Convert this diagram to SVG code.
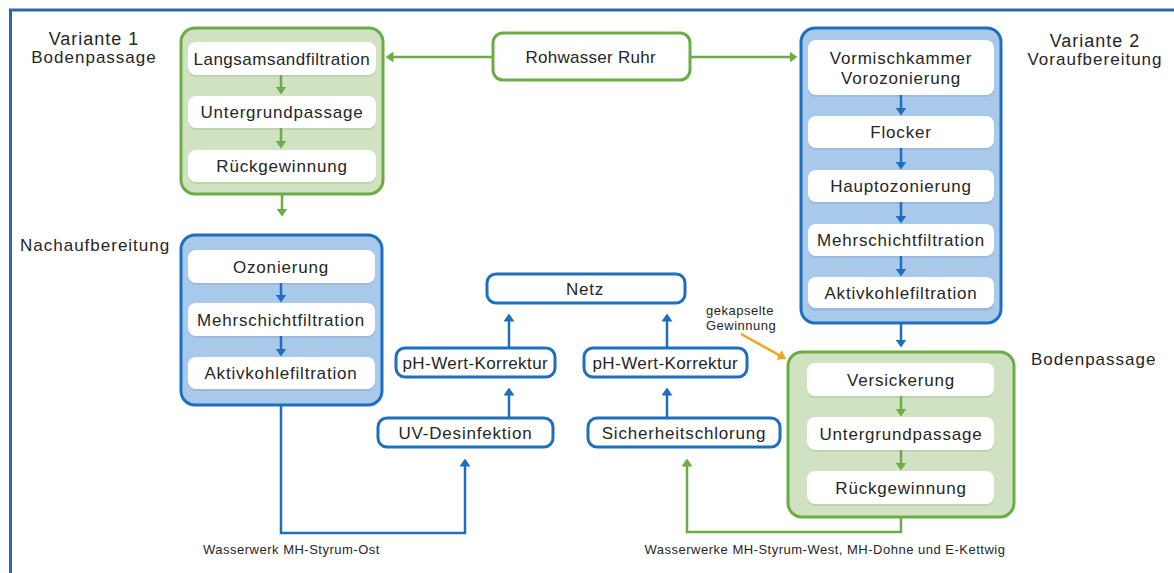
<svg xmlns="http://www.w3.org/2000/svg" width="1174" height="573" viewBox="0 0 1174 573">
<defs>
<style>
text{font-family:"Liberation Sans",Arial,sans-serif;fill:#262626}
.lbl{font-size:17px;letter-spacing:0.8px;text-anchor:middle}
.ttl{font-size:17px;letter-spacing:1px;text-anchor:middle}
.ttl1{font-size:18px;letter-spacing:1px;text-anchor:middle}
.sm{font-size:13px;letter-spacing:0.5px}
.gbox{fill:#d0e2c1;stroke:#6aad45;stroke-width:3}
.bbox{fill:#a9c9eb;stroke:#1e6fbf;stroke-width:3}
.step{fill:#ffffff}
.shadow{fill:#000000;fill-opacity:0.07}
.solo{fill:#ffffff;stroke:#1e6fbf;stroke-width:3}
.solog{fill:#ffffff;stroke:#6aad45;stroke-width:3}
.cg{stroke:#6aad45;stroke-width:2.5;fill:none;marker-end:url(#ag)}
.cb{stroke:#1e6fbf;stroke-width:2.5;fill:none;marker-end:url(#ab)}
.co{stroke:#f2a51f;stroke-width:2.5;fill:none;marker-end:url(#ao)}
</style>
<marker id="ag" viewBox="0 0 8 11" refX="0.5" refY="5.5" markerWidth="8" markerHeight="11" markerUnits="userSpaceOnUse" orient="auto"><path d="M0,0 L8,5.5 L0,11 z" fill="#6aad45"/></marker>
<marker id="ab" viewBox="0 0 8 11" refX="0.5" refY="5.5" markerWidth="8" markerHeight="11" markerUnits="userSpaceOnUse" orient="auto"><path d="M0,0 L8,5.5 L0,11 z" fill="#1e6fbf"/></marker>
<marker id="ao" viewBox="0 0 8 11" refX="0.5" refY="5.5" markerWidth="8" markerHeight="11" markerUnits="userSpaceOnUse" orient="auto"><path d="M0,0 L8,5.5 L0,11 z" fill="#f2a51f"/></marker>
</defs>
<rect x="0" y="0" width="1174" height="573" fill="#ffffff"/>
<g id="frame" stroke="#2a69ad" stroke-width="3" fill="none">
<line x1="9" y1="10" x2="1174" y2="10"/>
<line x1="10.5" y1="9" x2="10.5" y2="573"/>
</g>
<g id="titles">
<text class="ttl1" x="94" y="45">Variante 1</text>
<text class="ttl" x="94" y="63">Bodenpassage</text>
<text class="ttl1" x="1095" y="47">Variante 2</text>
<text class="ttl" x="1095" y="65">Voraufbereitung</text>
<text class="ttl" x="20" y="251" style="text-anchor:start">Nachaufbereitung</text>
<text class="ttl" x="1031" y="365" style="text-anchor:start">Bodenpassage</text>
<text class="sm" x="203" y="554">Wasserwerk MH-Styrum-Ost</text>
<text class="sm" x="825" y="554" style="text-anchor:middle">Wasserwerke MH-Styrum-West, MH-Dohne und E-Kettwig</text>
<text class="sm" x="706" y="315">gekapselte</text>
<text class="sm" x="706" y="330">Gewinnung</text>
</g>
<g id="variante1">
<rect class="gbox" x="181" y="28" width="202" height="166" rx="14"/>
<g id="v1-langsam"><rect class="shadow" x="188" y="44" width="188" height="33" rx="8"/><rect class="step" x="188" y="42" width="188" height="33" rx="8"/><text class="lbl" x="282" y="64.5" textLength="177">Langsamsandfiltration</text></g>
<g id="v1-untergrund"><rect class="shadow" x="188" y="98" width="188" height="32" rx="8"/><rect class="step" x="188" y="96" width="188" height="32" rx="8"/><text class="lbl" x="282" y="118">Untergrundpassage</text></g>
<g id="v1-rueck"><rect class="shadow" x="188" y="152" width="188" height="32" rx="8"/><rect class="step" x="188" y="150" width="188" height="32" rx="8"/><text class="lbl" x="282" y="172">Rückgewinnung</text></g>
</g>
<g id="rohwasser">
<rect class="solog" x="493" y="33" width="197" height="47" rx="10"/>
<text class="lbl" x="591" y="63" textLength="131">Rohwasser Ruhr</text>
</g>
<g id="variante2">
<rect class="bbox" x="801" y="28" width="200" height="295" rx="14"/>
<g id="v2-vormisch"><rect class="shadow" x="808" y="42" width="186" height="55" rx="8"/><rect class="step" x="808" y="40" width="186" height="55" rx="8"/><text class="lbl" x="901" y="64">Vormischkammer</text><text class="lbl" x="901" y="84">Vorozonierung</text></g>
<g id="v2-flocker"><rect class="shadow" x="808" y="118" width="186" height="32" rx="8"/><rect class="step" x="808" y="116" width="186" height="32" rx="8"/><text class="lbl" x="901" y="138">Flocker</text></g>
<g id="v2-haupt"><rect class="shadow" x="808" y="172" width="186" height="32" rx="8"/><rect class="step" x="808" y="170" width="186" height="32" rx="8"/><text class="lbl" x="901" y="192">Hauptozonierung</text></g>
<g id="v2-mehr"><rect class="shadow" x="808" y="226" width="186" height="32" rx="8"/><rect class="step" x="808" y="224" width="186" height="32" rx="8"/><text class="lbl" x="901" y="246">Mehrschichtfiltration</text></g>
<g id="v2-aktiv"><rect class="shadow" x="808" y="280" width="186" height="31" rx="8"/><rect class="step" x="808" y="277" width="186" height="31" rx="8"/><text class="lbl" x="901" y="298.5">Aktivkohlefiltration</text></g>
</g>
<g id="nachaufbereitung">
<rect class="bbox" x="181" y="235" width="201" height="170" rx="14"/>
<g id="n-ozon"><rect class="shadow" x="188" y="252" width="187" height="33" rx="8"/><rect class="step" x="188" y="250" width="187" height="33" rx="8"/><text class="lbl" x="281" y="272.5">Ozonierung</text></g>
<g id="n-mehr"><rect class="shadow" x="188" y="305" width="187" height="33" rx="8"/><rect class="step" x="188" y="303" width="187" height="33" rx="8"/><text class="lbl" x="281" y="325.5">Mehrschichtfiltration</text></g>
<g id="n-aktiv"><rect class="shadow" x="188" y="359" width="187" height="32" rx="8"/><rect class="step" x="188" y="357" width="187" height="32" rx="8"/><text class="lbl" x="281" y="379">Aktivkohlefiltration</text></g>
</g>
<g id="bodenpassage">
<rect class="gbox" x="788" y="352" width="226" height="165" rx="14"/>
<g id="b-versick"><rect class="shadow" x="807" y="365" width="187" height="33" rx="8"/><rect class="step" x="807" y="363" width="187" height="33" rx="8"/><text class="lbl" x="901" y="385.5">Versickerung</text></g>
<g id="b-untergrund"><rect class="shadow" x="807" y="419" width="187" height="33" rx="8"/><rect class="step" x="807" y="417" width="187" height="33" rx="8"/><text class="lbl" x="901" y="439.5">Untergrundpassage</text></g>
<g id="b-rueck"><rect class="shadow" x="807" y="473" width="187" height="33" rx="8"/><rect class="step" x="807" y="471" width="187" height="33" rx="8"/><text class="lbl" x="901" y="493.5">Rückgewinnung</text></g>
</g>
<g id="netz"><rect class="solo" x="487" y="274" width="198" height="29" rx="9"/><text class="lbl" x="585" y="294.5">Netz</text></g>
<g id="ph1"><rect class="solo" x="396" y="348" width="159" height="29" rx="9"/><text class="lbl" x="475.5" y="368.5" textLength="146">pH-Wert-Korrektur</text></g>
<g id="ph2"><rect class="solo" x="584" y="348" width="163" height="29" rx="9"/><text class="lbl" x="665.5" y="368.5" textLength="146">pH-Wert-Korrektur</text></g>
<g id="uv"><rect class="solo" x="378" y="418" width="175" height="29" rx="9"/><text class="lbl" x="465.5" y="438.5">UV-Desinfektion</text></g>
<g id="sicherheit"><rect class="solo" x="588" y="418" width="192" height="29" rx="9"/><text class="lbl" x="684" y="438.5">Sicherheitschlorung</text></g>
<g id="connectors">
<line class="cg" x1="492" y1="57" x2="393" y2="57"/>
<line class="cg" x1="690" y1="57" x2="790" y2="57"/>
<line class="cg" x1="281" y1="75" x2="281" y2="87"/>
<line class="cg" x1="281" y1="128" x2="281" y2="141"/>
<line class="cg" x1="282" y1="195" x2="282" y2="209"/>
<line class="cb" x1="281" y1="283" x2="281" y2="295"/>
<line class="cb" x1="281" y1="336" x2="281" y2="349"/>
<line class="cb" x1="901" y1="95" x2="901" y2="108"/>
<line class="cb" x1="901" y1="148" x2="901" y2="162"/>
<line class="cb" x1="901" y1="202" x2="901" y2="216"/>
<line class="cb" x1="901" y1="256" x2="901" y2="269"/>
<line class="cb" x1="901" y1="324" x2="901" y2="340"/>
<line class="cg" x1="901" y1="396" x2="901" y2="409"/>
<line class="cg" x1="901" y1="450" x2="901" y2="463"/>
<polyline class="cb" points="281,406 281,533 465,533 465,466"/>
<polyline class="cg" points="901,518 901,532 687,532 687,466"/>
<line class="cb" x1="509" y1="418" x2="509" y2="395"/>
<line class="cb" x1="509" y1="348" x2="509" y2="321"/>
<line class="cb" x1="667" y1="418" x2="667" y2="395"/>
<line class="cb" x1="667" y1="348" x2="667" y2="321"/>
<line class="co" x1="741" y1="334" x2="779.5" y2="355.3"/>
</g>
</svg>
